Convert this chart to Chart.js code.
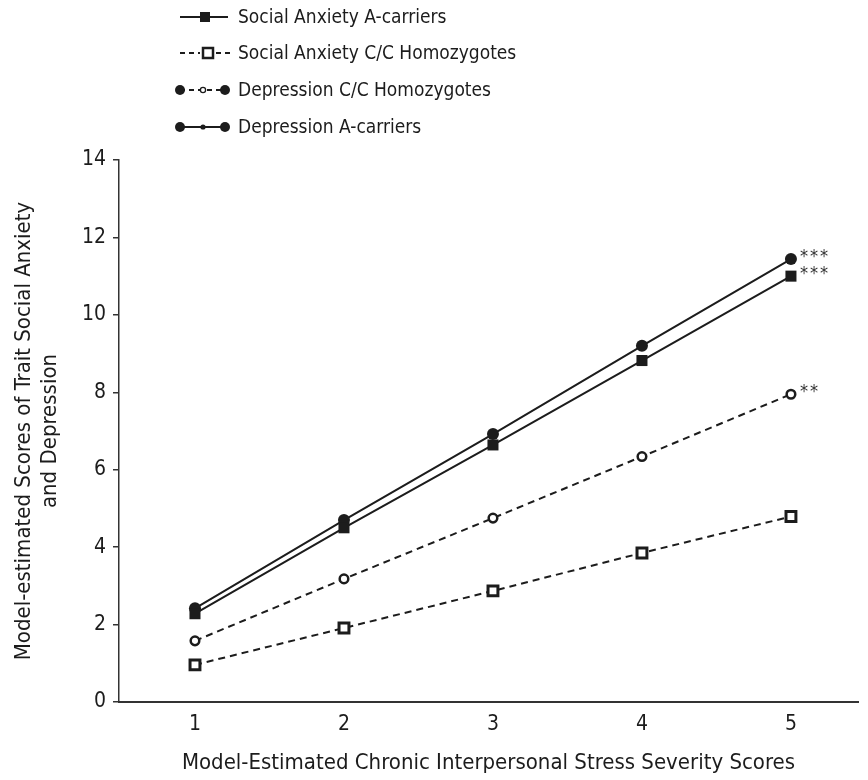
<!DOCTYPE html>
<html>
<head>
<meta charset="utf-8">
<title>Chronic Interpersonal Stress and Trait Scores</title>
<script src="https://cdn.jsdelivr.net/npm/chart.js@4.4.1/dist/chart.umd.min.js"></script>
<style>
  html, body { margin: 0; padding: 0; background: #fff; }
  #chart { display: block; }
</style>
</head>
<body>
<canvas id="chart" width="868" height="780"></canvas>
<script>
// Values
const stressScores = [1, 2, 3, 4, 5];
const xTickValues = [1, 2, 3, 4, 5];
const yTickStep = 2;
const yMax = 14;

const socialAnxietyACarriers = [2.28, 4.50, 6.64, 8.82, 11.00];
const socialAnxietyCC = [0.96, 1.91, 2.87, 3.85, 4.79];
const depressionCC = [1.58, 3.18, 4.75, 6.34, 7.95];
const depressionACarriers = [2.42, 4.70, 6.92, 9.20, 11.44];

const seriesLabels = [
    'Social Anxiety A-carriers',
    'Social Anxiety C/C Homozygotes',
    'Depression C/C Homozygotes',
    'Depression A-carriers'
];
// significance marks printed next to the last point of each line
const significance = ['***', '', '**', '***'];

const xTitle = 'Model-Estimated Chronic Interpersonal Stress Severity Scores';
const yTitle = ['Model-estimated Scores of Trait Social Anxiety', 'and Depression'];

const INK = '#1c1c1c';
const FONT = '"Liberation Sans Narrow", "DejaVu Sans Condensed", "Roboto", sans-serif';

const toPoints = values => stressScores.map((x, i) => ({ x: x, y: values[i] }));

// Draws the little line+marker samples of the legend (they differ from the plot markers)
function drawLegendSample(ctx, index, y) {
    ctx.save();
    ctx.strokeStyle = INK;
    ctx.fillStyle = INK;
    ctx.lineWidth = 2;
    if (index === 0) {
        ctx.beginPath(); ctx.moveTo(180, y); ctx.lineTo(228, y); ctx.stroke();
        ctx.fillRect(200, y - 5, 10, 10);
    } else if (index === 1) {
        ctx.setLineDash([5, 4]);
        ctx.beginPath(); ctx.moveTo(180, y); ctx.lineTo(200, y); ctx.stroke();
        ctx.beginPath(); ctx.moveTo(216, y); ctx.lineTo(234, y); ctx.stroke();
        ctx.setLineDash([]);
        ctx.lineWidth = 2.5;
        ctx.fillStyle = '#fff';
        ctx.fillRect(203, y - 5, 10, 10);
        ctx.strokeRect(203, y - 5, 10, 10);
    } else {
        if (index === 2) ctx.setLineDash([5, 4]);
        ctx.beginPath(); ctx.moveTo(180, y); ctx.lineTo(225, y); ctx.stroke();
        ctx.setLineDash([]);
        [180, 225].forEach(cx => {
            ctx.beginPath(); ctx.arc(cx, y, 5, 0, Math.PI * 2); ctx.fill();
        });
        ctx.beginPath(); ctx.arc(203, y, 2.6, 0, Math.PI * 2);
        if (index === 2) {
            ctx.fillStyle = '#fff'; ctx.fill();
            ctx.lineWidth = 1.3; ctx.stroke();
        } else {
            ctx.fill();
        }
    }
    ctx.restore();
}

const legendPlugin = {
    id: 'stackedLegend',
    afterDraw(chart) {
        const ctx = chart.ctx;
        const rows = [17, 53, 90, 127];
        seriesLabels.forEach((label, i) => {
            drawLegendSample(ctx, i, rows[i]);
            ctx.save();
            ctx.fillStyle = INK;
            ctx.font = '19px ' + FONT;
            ctx.textBaseline = 'middle';
            ctx.fillText(label, 238, rows[i] + 1);
            ctx.restore();
        });
    }
};

const starsPlugin = {
    id: 'significanceStars',
    afterDatasetsDraw(chart) {
        const ctx = chart.ctx;
        ctx.save();
        ctx.fillStyle = '#333';
        ctx.font = '18px ' + FONT;
        ctx.textBaseline = 'middle';
        chart.data.datasets.forEach((ds, i) => {
            const stars = significance[i];
            if (!stars) return;
            const pts = chart.getDatasetMeta(i).data;
            const last = pts[pts.length - 1];
            for (let k = 0; k < stars.length; k++) {
                ctx.fillText(stars[k], last.x + 9 + k * 10, last.y - 2);
            }
        });
        ctx.restore();
    }
};

const ctx = document.getElementById('chart').getContext('2d');
new Chart(ctx, {
    type: 'line',
    data: {
        datasets: [
            {
                label: seriesLabels[0],
                data: toPoints(socialAnxietyACarriers),
                borderColor: INK, borderWidth: 2,
                pointStyle: 'rect', pointRadius: 7.8,
                pointBackgroundColor: INK, pointBorderColor: INK, pointBorderWidth: 0
            },
            {
                label: seriesLabels[1],
                data: toPoints(socialAnxietyCC),
                borderColor: INK, borderWidth: 2, borderDash: [7, 5],
                pointStyle: 'rect', pointRadius: 7,
                pointBackgroundColor: '#fff', pointBorderColor: INK, pointBorderWidth: 3
            },
            {
                label: seriesLabels[2],
                data: toPoints(depressionCC),
                borderColor: INK, borderWidth: 2, borderDash: [7, 5],
                pointStyle: 'circle', pointRadius: 4.3,
                pointBackgroundColor: '#fff', pointBorderColor: INK, pointBorderWidth: 2.5
            },
            {
                label: seriesLabels[3],
                data: toPoints(depressionACarriers),
                borderColor: INK, borderWidth: 2,
                pointStyle: 'circle', pointRadius: 6,
                pointBackgroundColor: INK, pointBorderColor: INK, pointBorderWidth: 0
            }
        ]
    },
    options: {
        responsive: false,
        animation: false,
        devicePixelRatio: 1,
        layout: { padding: { top: 160, left: 0, right: 0, bottom: 0 } },
        plugins: {
            legend: { display: false },
            tooltip: { enabled: false }
        },
        elements: { line: { tension: 0, fill: false } },
        scales: {
            x: {
                type: 'linear',
                min: 0.49,
                max: 5.45,
                afterBuildTicks: scale => { scale.ticks = xTickValues.map(v => ({ value: v })); },
                afterFit: scale => { scale.height = 78; },
                grid: { display: false, drawTicks: false },
                border: { display: true, color: '#333', width: 2 },
                ticks: {
                    color: INK, padding: 10,
                    font: { family: FONT, size: 21 },
                    callback: v => String(v)
                },
                title: {
                    display: true, text: xTitle, color: INK,
                    font: { family: FONT, size: 22 },
                    padding: { top: 4, bottom: 4 }
                }
            },
            y: {
                min: 0,
                max: yMax,
                afterFit: scale => { scale.width = 119; },
                ticks: {
                    stepSize: yTickStep, color: INK, padding: 7,
                    font: { family: FONT, size: 21 }
                },
                grid: {
                    drawOnChartArea: false, drawTicks: true, tickLength: 6,
                    color: '#333', lineWidth: 1.5
                },
                border: { display: true, color: '#333', width: 1.5 },
                title: {
                    display: true, text: yTitle, color: INK,
                    font: { family: FONT, size: 22 },
                    padding: { top: 11, bottom: 4 }
                }
            }
        }
    },
    plugins: [legendPlugin, starsPlugin]
});
</script>
</body>
</html>
